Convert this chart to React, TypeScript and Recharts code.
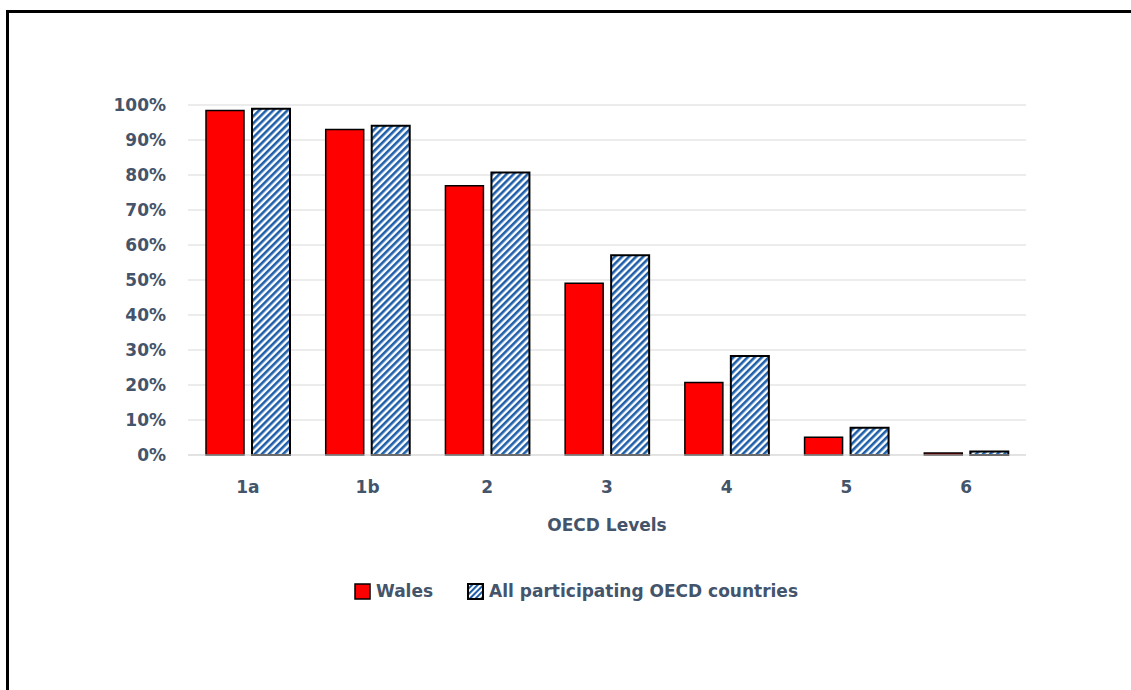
import { Bar, BarChart, CartesianGrid, Label, XAxis, YAxis } from "recharts";

const LEVELS = ["1a", "1b", "2", "3", "4", "5", "6"];
const WALES = [98.4, 93.0, 76.9, 49.1, 20.7, 5.1, 0.6];
const OECD = [98.9, 94.1, 80.7, 57.1, 28.3, 7.8, 1.0];
const Y_TICKS = [0, 10, 20, 30, 40, 50, 60, 70, 80, 90, 100];

const TEXT = "#44546A";
const FONT = "'DejaVu Sans', sans-serif";
const RED = "#FF0000";
const BLUE = "#1F5FAA";

const data = LEVELS.map((level, i) => ({
  level,
  wales: WALES[i],
  oecd: OECD[i],
}));

function ChartLegend() {
  return (
    <div
      style={{
        position: "absolute",
        left: 354,
        top: 581,
        display: "flex",
        alignItems: "center",
        fontFamily: FONT,
        fontWeight: 700,
        fontSize: 17,
        color: TEXT,
        whiteSpace: "nowrap",
      }}
    >
      <svg width={17} height={17} style={{ marginRight: 5 }}>
        <rect x={1} y={1} width={15} height={15} fill={RED} stroke="#000" strokeWidth={1.5} />
      </svg>
      <span style={{ marginRight: 34 }}>Wales</span>
      <svg width={17} height={17} style={{ marginRight: 5 }}>
        <defs>
          <pattern id="legendStripes" width={4} height={4} patternUnits="userSpaceOnUse" patternTransform="rotate(45)">
            <rect width={4} height={4} fill="#fff" />
            <rect width={2} height={4} fill={BLUE} />
          </pattern>
        </defs>
        <rect x={1} y={1} width={15} height={15} fill="url(#legendStripes)" stroke="#000" strokeWidth={2} />
      </svg>
      <span>All participating OECD countries</span>
    </div>
  );
}

export default function App() {
  return (
    <div
      style={{
        position: "fixed",
        left: 0,
        top: 0,
        width: 1131,
        height: 690,
        overflow: "hidden",
        background: "#fff",
      }}
    >
      <div
        style={{
          position: "absolute",
          left: 6,
          top: 10,
          width: 1200,
          height: 800,
          border: "3px solid #000",
        }}
      />
      <div style={{ position: "absolute", left: 0, top: 0 }}>
        <BarChart
          width={1131}
          height={690}
          data={data}
          margin={{ top: 105, right: 105, bottom: 155, left: 128 }}
          barGap={8}
          barSize={38}
        >
          <defs>
            <pattern id="oecdStripes" width={5} height={5} patternUnits="userSpaceOnUse" patternTransform="rotate(45)">
              <rect width={5} height={5} fill="#fff" />
              <rect width={2.6} height={5} fill={BLUE} />
            </pattern>
          </defs>
          <CartesianGrid vertical={false} stroke="#D9D9D9" strokeWidth={1} />
          <XAxis
            dataKey="level"
            axisLine={{ stroke: "#D9D9D9", strokeWidth: 1 }}
            tickLine={false}
            tickMargin={20}
            height={80}
            tick={{ fill: TEXT, fontFamily: FONT, fontWeight: 700, fontSize: 17 }}
          >
            <Label
              value="OECD Levels"
              position="insideBottom"
              offset={4}
              style={{ fill: TEXT, fontFamily: FONT, fontWeight: 700, fontSize: 17 }}
            />
          </XAxis>
          <YAxis
            domain={[0, 100]}
            ticks={Y_TICKS}
            width={60}
            axisLine={false}
            tickLine={false}
            tickMargin={16}
            tickFormatter={(v: number) => `${v}%`}
            tick={{ fill: TEXT, fontFamily: FONT, fontWeight: 700, fontSize: 17 }}
          />
          <Bar dataKey="wales" name="Wales" fill={RED} stroke="#000" strokeWidth={1.5} isAnimationActive={false} />
          <Bar
            dataKey="oecd"
            name="All participating OECD countries"
            fill="url(#oecdStripes)"
            stroke="#000"
            strokeWidth={2}
            isAnimationActive={false}
          />
        </BarChart>
      </div>
      <ChartLegend />
    </div>
  );
}
